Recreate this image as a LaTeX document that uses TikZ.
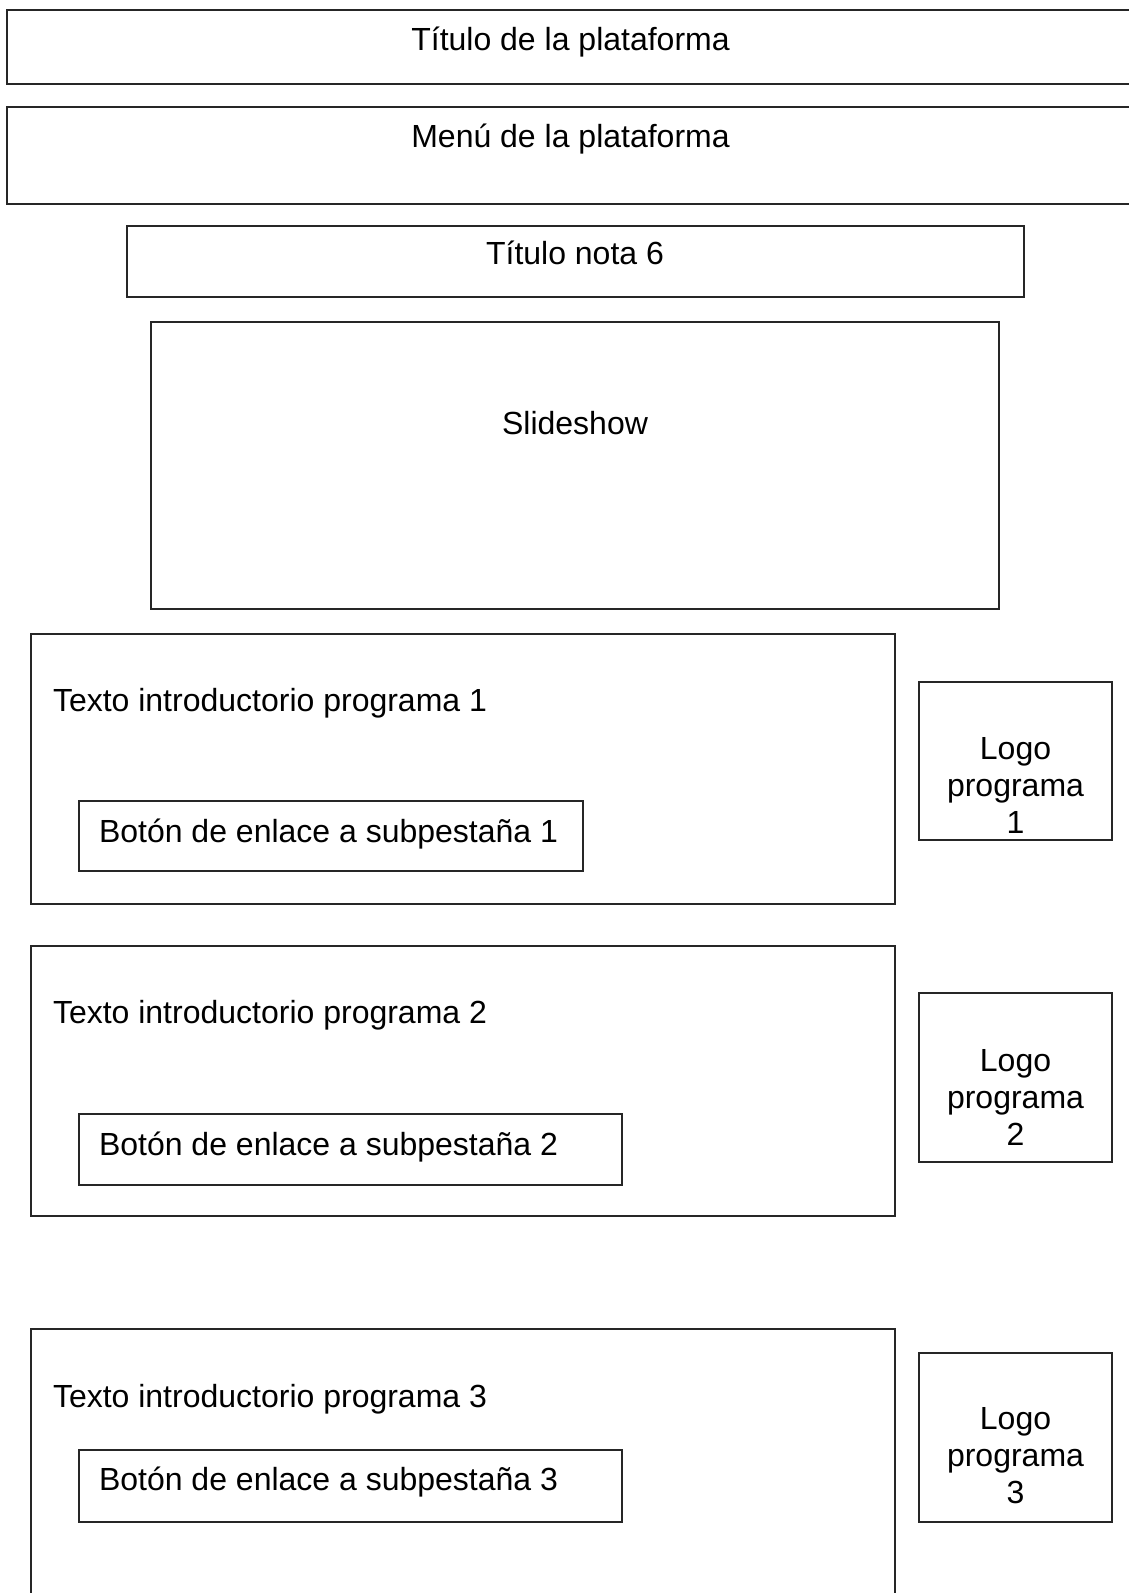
\documentclass[tikz,border=0pt]{standalone}
\usepackage{fontspec}
\setmainfont{Liberation Sans}
\begin{document}
\begin{tikzpicture}[x=1pt,y=-1pt,
  box/.style={draw=black!85,line width=1.2pt,inner sep=0pt,outer sep=0pt,rectangle},
  lbl/.style={inner sep=0pt,outer sep=0pt,font=\fontsize{32}{37}\selectfont},
  lbl3/.style={lbl,align=center}]
\useasboundingbox[fill=white] (0,0) rectangle (1128,1593);
% top bars
\node[box,minimum width=1133pt,minimum height=74pt] (titlebar) at (573.5,47) {};
\node[box,minimum width=1133pt,minimum height=97pt] (menubar) at (573.5,155.5) {};
\node[lbl,anchor=base] (titletext) at (570.5,50) {Título de la plataforma};
\node[lbl,anchor=base] (menutext) at (570.5,147) {Menú de la plataforma};
% note title and slideshow
\node[box,minimum width=897pt,minimum height=71pt] (notebox) at (575.5,261.5) {};
\node[lbl,anchor=base] (notetext) at (575,264) {Título nota 6};
\node[box,minimum width=848pt,minimum height=287pt] (slidebox) at (575,465.5) {};
\node[lbl,anchor=base] (slidetext) at (575,434) {Slideshow};
% programa 1
\node[box,minimum width=864pt,minimum height=270pt] (prog1) at (463,769) {};
\node[lbl,anchor=base west] (prog1text) at (53,711) {Texto introductorio programa 1};
\node[box,minimum width=504pt,minimum height=70pt] (btn1) at (331,836) {};
\node[lbl,anchor=base west] (btn1text) at (99,842) {Botón de enlace a subpestaña 1};
\node[box,minimum width=193pt,minimum height=158pt] (logo1) at (1015.5,761) {};
\node[lbl3] (logo1text) at (1015.5,785) {Logo\\programa\\1};
% programa 2
\node[box,minimum width=864pt,minimum height=270pt] (prog2) at (463,1081) {};
\node[lbl,anchor=base west] (prog2text) at (53,1023) {Texto introductorio programa 2};
\node[box,minimum width=543pt,minimum height=71pt] (btn2) at (350.5,1149.5) {};
\node[lbl,anchor=base west] (btn2text) at (99,1155) {Botón de enlace a subpestaña 2};
\node[box,minimum width=193pt,minimum height=169pt] (logo2) at (1015.5,1077.5) {};
\node[lbl3] (logo2text) at (1015.5,1097) {Logo\\programa\\2};
% programa 3
\node[box,minimum width=864pt,minimum height=291pt] (prog3) at (463,1474.5) {};
\node[lbl,anchor=base west] (prog3text) at (53,1407) {Texto introductorio programa 3};
\node[box,minimum width=543pt,minimum height=72pt] (btn3) at (350.5,1486) {};
\node[lbl,anchor=base west] (btn3text) at (99,1490) {Botón de enlace a subpestaña 3};
\node[box,minimum width=193pt,minimum height=169pt] (logo3) at (1015.5,1437.5) {};
\node[lbl3] (logo3text) at (1015.5,1456) {Logo\\programa\\3};
\end{tikzpicture}
\end{document}
